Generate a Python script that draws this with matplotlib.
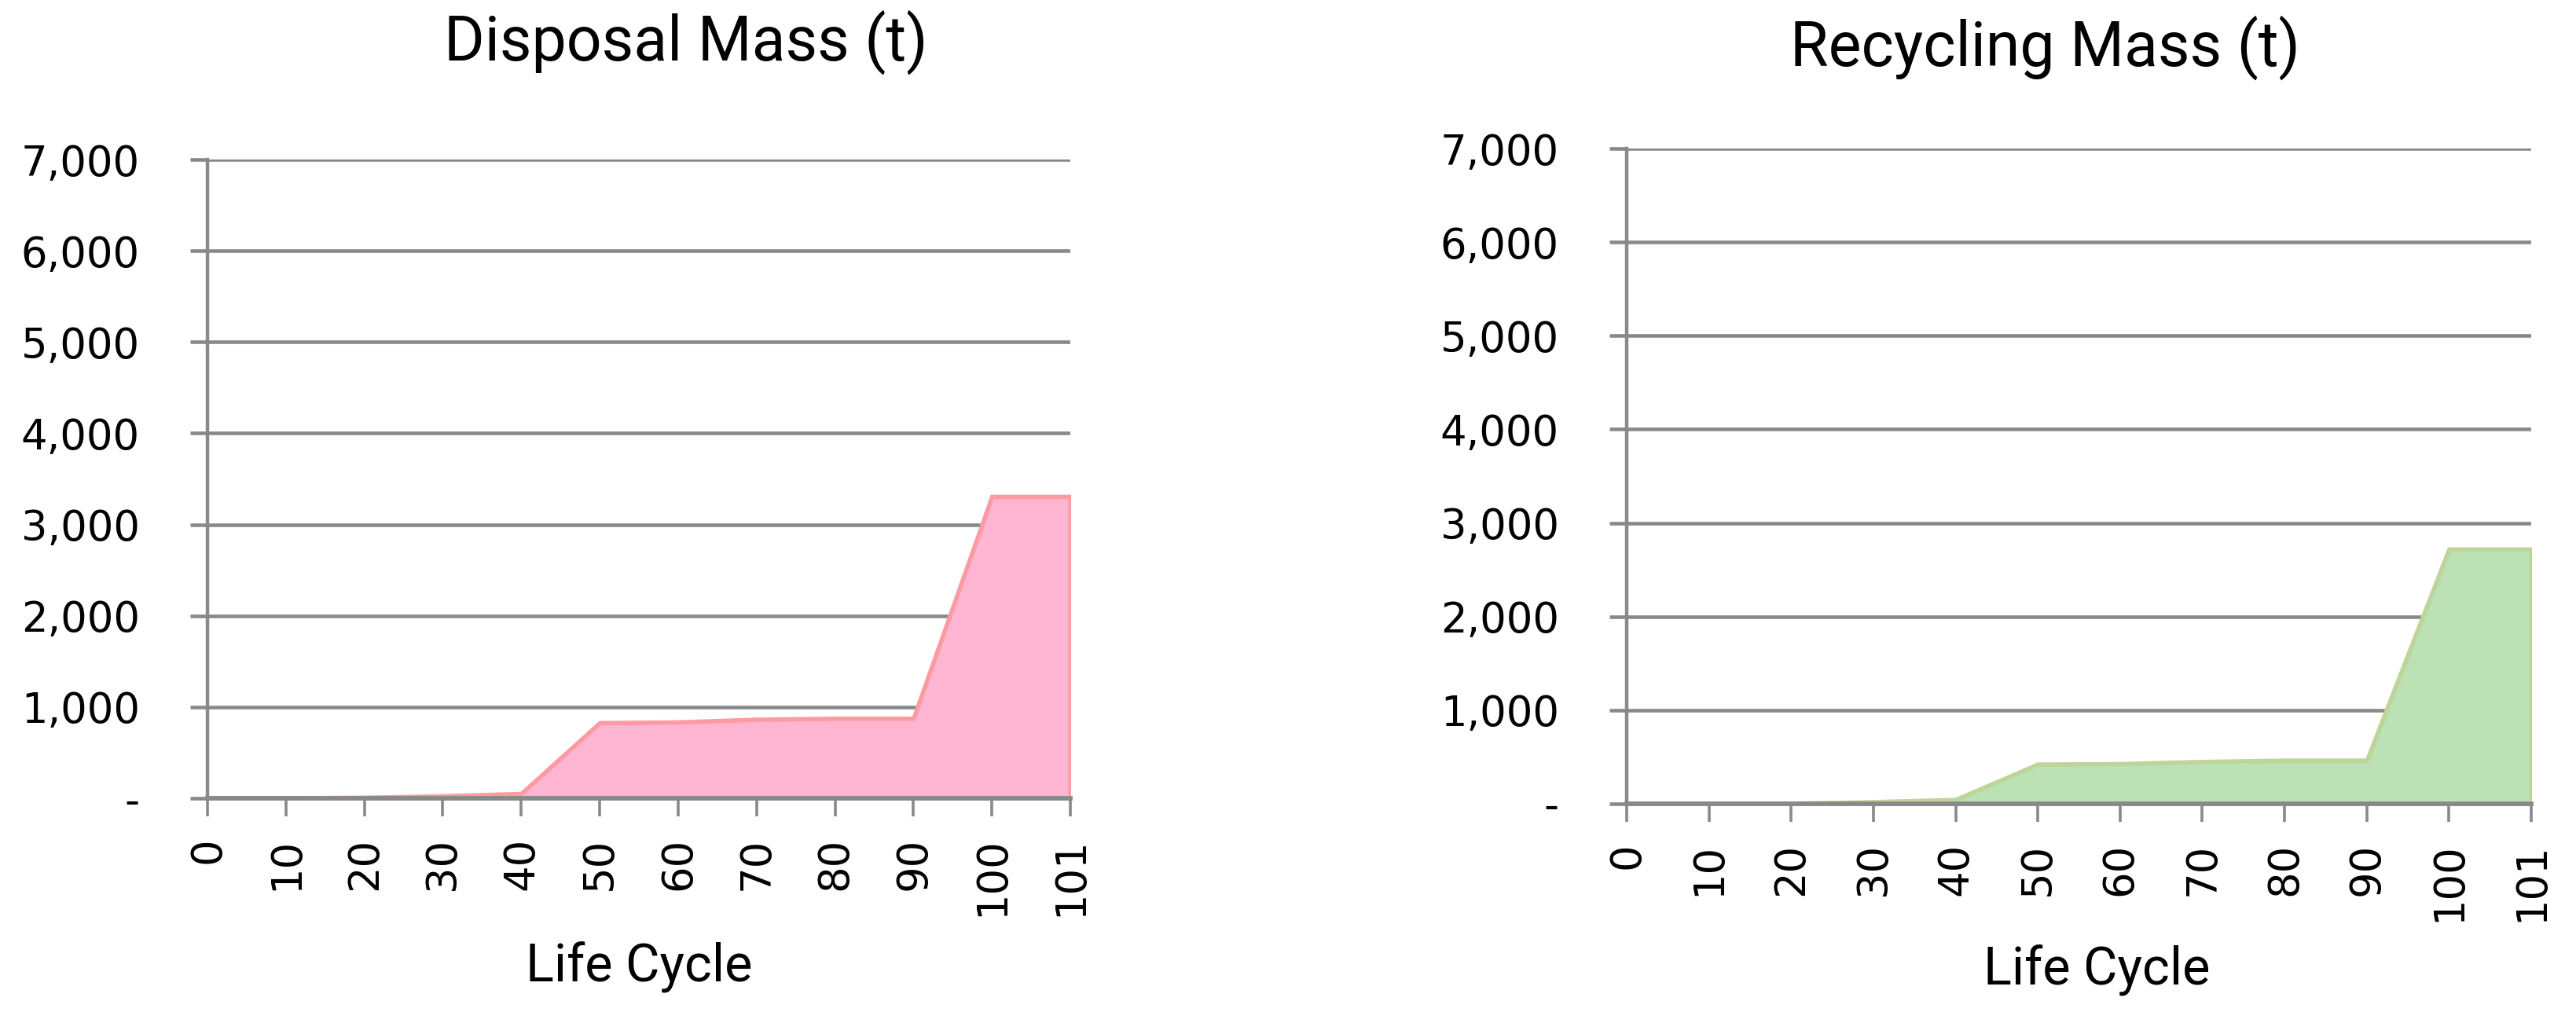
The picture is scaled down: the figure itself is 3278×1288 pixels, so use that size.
import matplotlib
matplotlib.use("Agg")
import matplotlib.pyplot as plt
from matplotlib import font_manager
from matplotlib.ticker import FixedLocator, FuncFormatter

# ---- data ----
life_cycle = ["0", "10", "20", "30", "40", "50", "60", "70", "80", "90", "100", "101"]
disposal = [3, 5, 10, 26, 52, 828, 836, 865, 876, 876, 3307, 3307]
recycling = [2, 2, 5, 22, 45, 423, 428, 451, 465, 465, 2720, 2720]
y_ticks = [0, 1000, 2000, 3000, 4000, 5000, 6000, 7000]
titles = ["Disposal Mass (t)", "Recycling Mass (t)"]
x_label = "Life Cycle"


def pick(fam, default):
    try:
        font_manager.findfont(font_manager.FontProperties(family=fam), fallback_to_default=False)
        return fam
    except Exception:
        return default


TICK_FONT = pick("Liberation Sans Narrow", "DejaVu Sans")
TEXT_FONT = pick("Roboto", "DejaVu Sans")
tick_size = 23.5 if TICK_FONT != "DejaVu Sans" else 19

W, H = 3278, 1288
DPI = 200
fig = plt.figure(figsize=(W / DPI, H / DPI), dpi=DPI)
fig.patch.set_facecolor("white")

GRID = "#898989"

panels = [
    dict(rect=(264, 203, 1362, 1016), vals=disposal, fill="#feb5d2", edge="#fd9aa2",
         title_x=873, title_base=77, xl_x=813, xl_base=1249),
    dict(rect=(2070, 189, 3221, 1023), vals=recycling, fill="#bbe1b5", edge="#bdd598",
         title_x=2603, title_base=84, xl_x=2668, xl_base=1253),
]

for i, p in enumerate(panels):
    x0, y0, x1, y1 = p["rect"]
    ax = fig.add_axes([x0 / W, 1 - y1 / H, (x1 - x0) / W, (y1 - y0) / H])
    xs = list(range(len(life_cycle)))
    ax.fill_between(xs, 0, p["vals"], facecolor=p["fill"], edgecolor=p["edge"],
                    linewidth=2.0, zorder=1, joinstyle="miter")
    ax.set_xlim(0, len(life_cycle) - 1)
    ax.set_ylim(0, 7000)
    ax.set_axisbelow(True)
    ax.yaxis.set_major_locator(FixedLocator(y_ticks))
    ax.yaxis.set_major_formatter(FuncFormatter(lambda v, pos: "-" if v == 0 else f"{v:,.0f}"))
    ax.grid(axis="y", color=GRID, linewidth=1.65, zorder=0)
    ax.set_xticks(xs)
    ax.set_xticklabels(life_cycle, rotation=90, fontfamily=TICK_FONT, fontsize=tick_size)
    for lab in ax.get_yticklabels():
        lab.set_fontfamily(TICK_FONT)
        lab.set_fontsize(tick_size)
    ax.tick_params(axis="y", length=8, width=1.65, color=GRID, pad=23)
    ax.tick_params(axis="x", length=8.3, width=1.3, color=GRID, pad=9.5)
    for s in ["top", "right"]:
        ax.spines[s].set_visible(False)
    ax.spines["left"].set_color(GRID)
    ax.spines["left"].set_linewidth(1.6)
    ax.spines["bottom"].set_color(GRID)
    ax.spines["bottom"].set_linewidth(2.1)
    ax.spines["bottom"].set_zorder(3)
    ax.set_facecolor("white")

    fig.text(p["title_x"] / W, 1 - p["title_base"] / H, titles[i], ha="center", va="baseline",
             fontfamily=TEXT_FONT, fontsize=28.4, color="black")
    fig.text(p["xl_x"] / W, 1 - p["xl_base"] / H, x_label, ha="center", va="baseline",
             fontfamily=TEXT_FONT, fontsize=24, color="black")

fig.savefig("out.png", dpi=DPI, facecolor="white")
